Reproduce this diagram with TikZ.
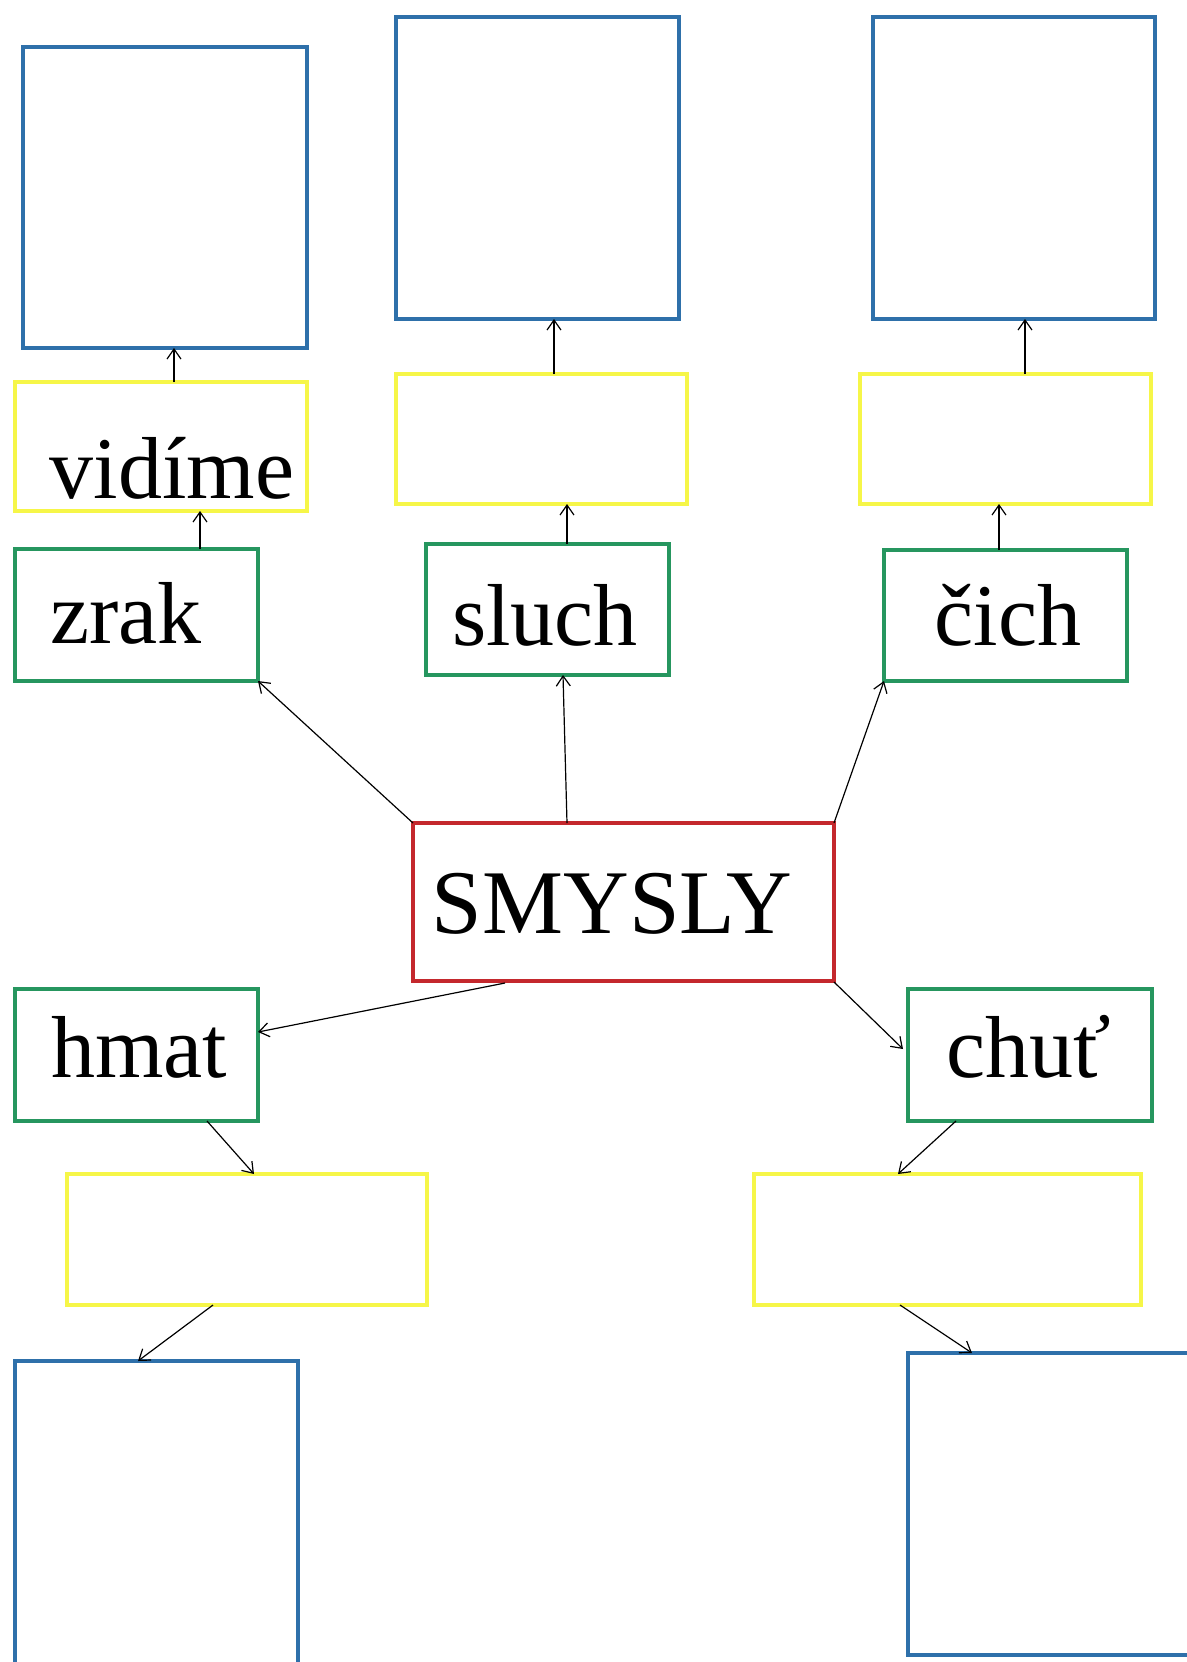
\documentclass[tikz,border=0pt]{standalone}
\usepackage{fontspec}
\setmainfont{Liberation Serif}
\usetikzlibrary{fit,calc,arrows.meta}
\definecolor{boxblue}{RGB}{46,112,170}
\definecolor{boxyellow}{RGB}{246,246,72}
\definecolor{boxgreen}{RGB}{38,150,95}
\definecolor{boxred}{RGB}{196,40,45}
\tikzset{
  bluebox/.style={draw=boxblue,line width=1.6pt,inner sep=0pt,outer sep=0pt},
  yellowbox/.style={draw=boxyellow,line width=2pt,inner sep=0pt,outer sep=0pt},
  greenbox/.style={draw=boxgreen,line width=1.6pt,inner sep=0pt,outer sep=0pt},
  redbox/.style={draw=boxred,line width=1.6pt,inner sep=0pt,outer sep=0pt},
  lbl/.style={inner sep=0pt,anchor=base,font=\fontsize{44}{50}\selectfont},
  biglbl/.style={inner sep=0pt,anchor=base,font=\fontsize{45.5}{52}\selectfont},
  arr/.style={draw=black,line width=0.6pt,-{Straight Barb[length=5pt,width=7pt,line width=0.6pt]}}
}
\begin{document}
\begin{tikzpicture}[x=0.5pt,y=-0.5pt]
\useasboundingbox (0,0) rectangle (1187,1662);
\fill[white] (0,0) rectangle (1187,1662);
\clip (0,0) rectangle (1187,1662);
% top row
\node[bluebox,fit={(23,47) (307,348)}] (bTL) {};
\node[bluebox,fit={(396,17) (679,319)}] (bTM) {};
\node[bluebox,fit={(873,17) (1155,319)}] (bTR) {};
\node[yellowbox,fit={(15,382) (307,511)}] (yL) {};
\node[yellowbox,fit={(396,374) (687,504)}] (yM) {};
\node[yellowbox,fit={(860,374) (1151,504)}] (yR) {};
\node[greenbox,fit={(15,549) (258,681)}] (gZ) {};
\node[greenbox,fit={(426,544) (669,675)}] (gS) {};
\node[greenbox,fit={(884,550) (1127,681)}] (gC) {};
% centre
\node[redbox,fit={(413,823) (834,981)}] (red) {};
% lower
\node[greenbox,fit={(15,989) (258,1121)}] (gH) {};
\node[greenbox,fit={(908,989) (1152,1121)}] (gCh) {};
\node[yellowbox,fit={(67,1174) (427,1305)}] (yBL) {};
\node[yellowbox,fit={(754,1174) (1141,1305)}] (yBR) {};
\node[bluebox,fit={(15,1361) (298,1690)}] (bBL) {};
\node[bluebox,fit={(908,1353) (1200,1655)}] (bBR) {};
% texts
\node[lbl] (tvid) at (172,498) {vidíme};
\node[lbl] (tzrak) at (126,643) {zrak};
\node[lbl] (tsluch) at (545,645) {sluch};
\node[lbl] (tcich) at (1008,645) {čich};
\node[biglbl] (tsmysly) at (612,933) {SMYSLY};
\node[lbl] (thmat) at (139,1077) {hmat};
\node[lbl] (tchut) at (1029,1077) {chuť};
% connectors top
\draw[arr] ($(yL.north)+(13,0)$) coordinate (a1) -- (a1 |- bTL.south);
\draw[arr] ($(gZ.north)+(63.5,0)$) coordinate (a2) -- (a2 |- yL.south);
\draw[arr] ($(yM.north)+(12.5,0)$) coordinate (a3) -- (a3 |- bTM.south);
\draw[arr] ($(gS.north)+(19.5,0)$) coordinate (a4) -- (a4 |- yM.south);
\draw[arr] ($(yR.north)+(19.5,0)$) coordinate (a5) -- (a5 |- bTR.south);
\draw[arr] ($(gC.north)+(-6.5,0)$) coordinate (a6) -- (a6 |- yR.south);
\draw[arr] ($(red.north)+(-56.5,0)$) -- ($(gS.south)+(15.5,0)$);
\draw[arr] (red.north west) -- (gZ.south east);
\draw[arr] (red.north east) -- (gC.south west);
% connectors bottom
\draw[arr] ($(red.south)+(-118.5,2)$) -- ($(gH.east)+(0,-23)$);
\draw[arr] ($(red.south east)+(0,1)$) -- ($(gCh.west)+(-5,-6)$);
\draw[arr] ($(gH.south)+(70.5,0)$) -- ($(yBL.north)+(7,0)$);
\draw[arr] ($(gCh.south)+(-74,0)$) -- ($(yBR.north)+(-49.5,0)$);
\draw[arr] ($(yBL.south)+(-34,0)$) -- ($(bBL.north)+(-18.5,0)$);
\draw[arr] ($(yBR.south)+(-47.5,0)$) -- ($(bBR.north)+(-82,0)$);
\end{tikzpicture}
\end{document}
